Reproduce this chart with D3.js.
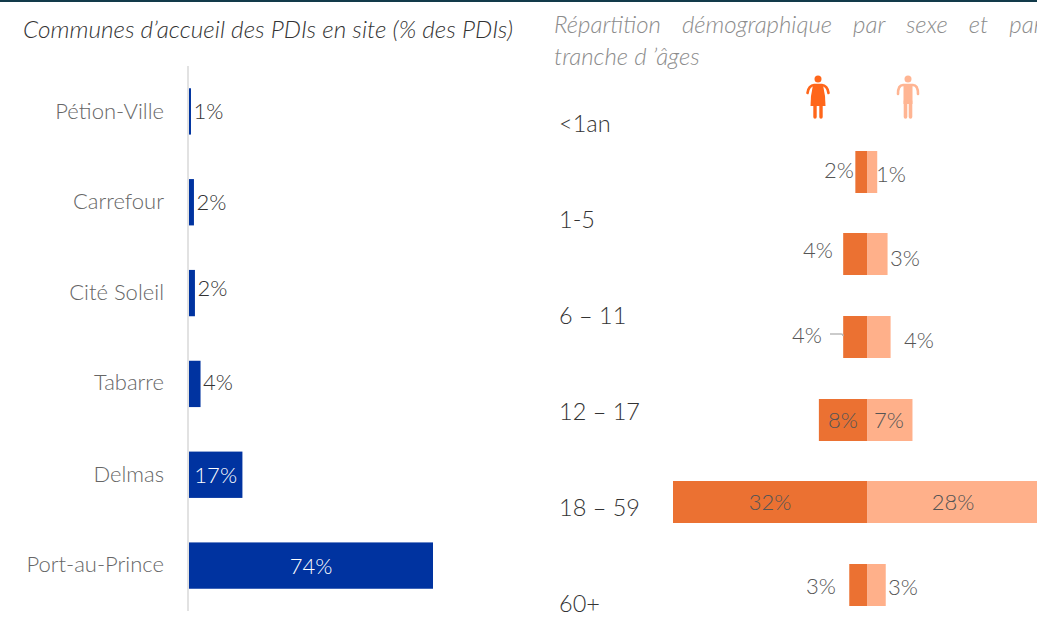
<!DOCTYPE html>
<html><head><meta charset="utf-8">
<script src="https://cdn.jsdelivr.net/npm/d3@7/dist/d3.min.js"></script>
<style>
html,body{margin:0;padding:0;background:#fff;overflow:hidden}
svg{display:block}
text{font-family:Lato,"Open Sans",sans-serif;font-weight:300}
</style></head><body>
<svg id="c" width="1037" height="634"></svg>
<script>
const communes=["Pétion-Ville","Carrefour","Cité Soleil","Tabarre","Delmas","Port-au-Prince"];
const communeValues=[0.6,1.5,1.8,3.5,16.2,74];
const communeLabels=["1%","2%","2%","4%","17%","74%"];
const ages=["<1an","1-5","6 – 11","12 – 17","18 – 59","60+"];
const femmes=[2,4,4,8,32,3];
const hommes=[1.6,3.3,3.8,7.4,28,3];
const femmesLabels=["2%","4%","4%","8%","32%","3%"];
const hommesLabels=["1%","3%","4%","7%","28%","3%"];

const svg=d3.select("#c");
svg.append("rect").attr("x",0).attr("y",0).attr("width",1037).attr("height",2).attr("fill","#123a4a");

// Left panel
svg.append("text").attr("x",23).attr("y",38).attr("font-size",24).attr("font-style","italic").attr("fill","#333")
  .attr("textLength",490).attr("lengthAdjust","spacingAndGlyphs").text("Communes d’accueil des PDIs en site (% des PDIs)");
const xL=d3.scaleLinear().domain([0,74]).range([189,433]);
const yL=d3.scaleBand().domain(communes).range([66,611]).paddingInner(0.49).paddingOuter(0.245);
svg.append("line").attr("x1",188).attr("x2",188).attr("y1",66).attr("y2",611).attr("stroke","#d9d9d9").attr("stroke-width",1.5);
svg.selectAll(".bl").data(communes).join("rect").attr("class","bl")
  .attr("x",xL(0)).attr("y",d=>yL(d)).attr("height",yL.bandwidth())
  .attr("width",(d,i)=>xL(communeValues[i])-xL(0)).attr("fill","#0033a0");
const catDy=[7.5,6.5,6.5,6.5,7,6.5];
svg.selectAll(".cl").data(communes).join("text").attr("class","cl")
  .attr("x",164).attr("y",(d,i)=>yL(d)+yL.bandwidth()/2+catDy[i]).attr("text-anchor","end")
  .attr("font-size",22).attr("fill","#666").text(d=>d);
const valDy=[8,8,3,6,8,8];
svg.selectAll(".vl").data(communes).join("text").attr("class","vl")
  .attr("y",(d,i)=>yL(d)+yL.bandwidth()/2+valDy[i]).attr("font-size",22)
  .attr("text-anchor",(d,i)=>i>=4?"middle":"start")
  .attr("x",(d,i)=>i>=4?(xL(0)+xL(communeValues[i]))/2:xL(communeValues[i])+2.500)
  .attr("fill",(d,i)=>i>=4?"#fff":"#333").text((d,i)=>communeLabels[i]);

// Right panel
const titleR=svg.append("g").attr("font-size",24).attr("font-style","italic").attr("fill","#8c8c8c");
titleR.append("text").attr("x",554).attr("y",33).attr("word-spacing",15).text("Répartition démographique par sexe et par");
titleR.append("text").attr("x",554).attr("y",65).text("tranche d ’âges");

const xR=d3.scaleLinear().domain([0,32]).range([867.5,1062]);
const xF=d3.scaleLinear().domain([0,32]).range([867.5,673]);
const ageY=[132,228,324,420,516,612];
svg.selectAll(".al").data(ages).join("text").attr("class","al")
  .attr("x",559).attr("y",(d,i)=>ageY[i]).attr("font-size",23.5).attr("fill","#333").text(d=>d);
const barY=[151,233,316,399,481,564], barH=42;
svg.selectAll(".bf").data(ages).join("rect").attr("class","bf")
  .attr("x",(d,i)=>xF(femmes[i])).attr("width",(d,i)=>xF(0)-xF(femmes[i]))
  .attr("y",(d,i)=>barY[i]).attr("height",barH).attr("fill","#eb7132");
svg.selectAll(".bh").data(ages).join("rect").attr("class","bh")
  .attr("x",xR(0)).attr("width",(d,i)=>xR(hommes[i])-xR(0))
  .attr("y",(d,i)=>barY[i]).attr("height",barH).attr("fill","#ffb08a");
svg.append("path").attr("d","M830 334H841q2 0 2 2").attr("fill","none").attr("stroke","#bbb").attr("stroke-width",1.5);
const fx=[839,818,807,843,770,821], fy=[178,258,343,428,510,594];
const hx=[891,905,919,889,953,903], hy=[182,266,348,428,510,595];
svg.selectAll(".fl").data(ages).join("text").attr("class","fl")
  .attr("x",(d,i)=>fx[i]).attr("y",(d,i)=>fy[i]).attr("text-anchor","middle")
  .attr("font-size",22).attr("fill","#555").text((d,i)=>femmesLabels[i]);
svg.selectAll(".hl").data(ages).join("text").attr("class","hl")
  .attr("x",(d,i)=>hx[i]).attr("y",(d,i)=>hy[i]).attr("text-anchor","middle")
  .attr("font-size",22).attr("fill","#555").text((d,i)=>hommesLabels[i]);

// Icons
function person(g,cx,col,dress){
  const s=g.append("g").attr("transform",`translate(${cx},75)`).attr("fill",col).attr("stroke",col);
  s.append("circle").attr("cx",0).attr("cy",4).attr("r",3.5).attr("stroke","none");
  if(dress){
    s.append("path").attr("d","M-10.500 18C-10 13 -7 10 -4 10H4C7 10 10 13 10.500 18").attr("fill","none").attr("stroke-width",2.6).attr("stroke-linecap","round");
    s.append("path").attr("d","M-5 10H5L7 21L7.500 31H-7.500L-7 21Z").attr("stroke","none");
    s.append("path").attr("d","M-3 30V42M3 30V42").attr("fill","none").attr("stroke-width",3.4).attr("stroke-linecap","round");
  }else{
    s.append("path").attr("d","M-10 19C-10 13 -8 10 -5 10H5C8 10 10 13 10 19").attr("fill","none").attr("stroke-width",2.6).attr("stroke-linecap","round");
    s.append("path").attr("d","M-4.500 10H4.500V29H-4.500Z").attr("stroke","none");
    s.append("path").attr("d","M-2.500 26V42M2.500 26V42").attr("fill","none").attr("stroke-width",3.6).attr("stroke-linecap","round");
  }
}
person(svg,818,"#ff661a",true);
person(svg,908,"#ffb593",false);
</script>
</body></html>
